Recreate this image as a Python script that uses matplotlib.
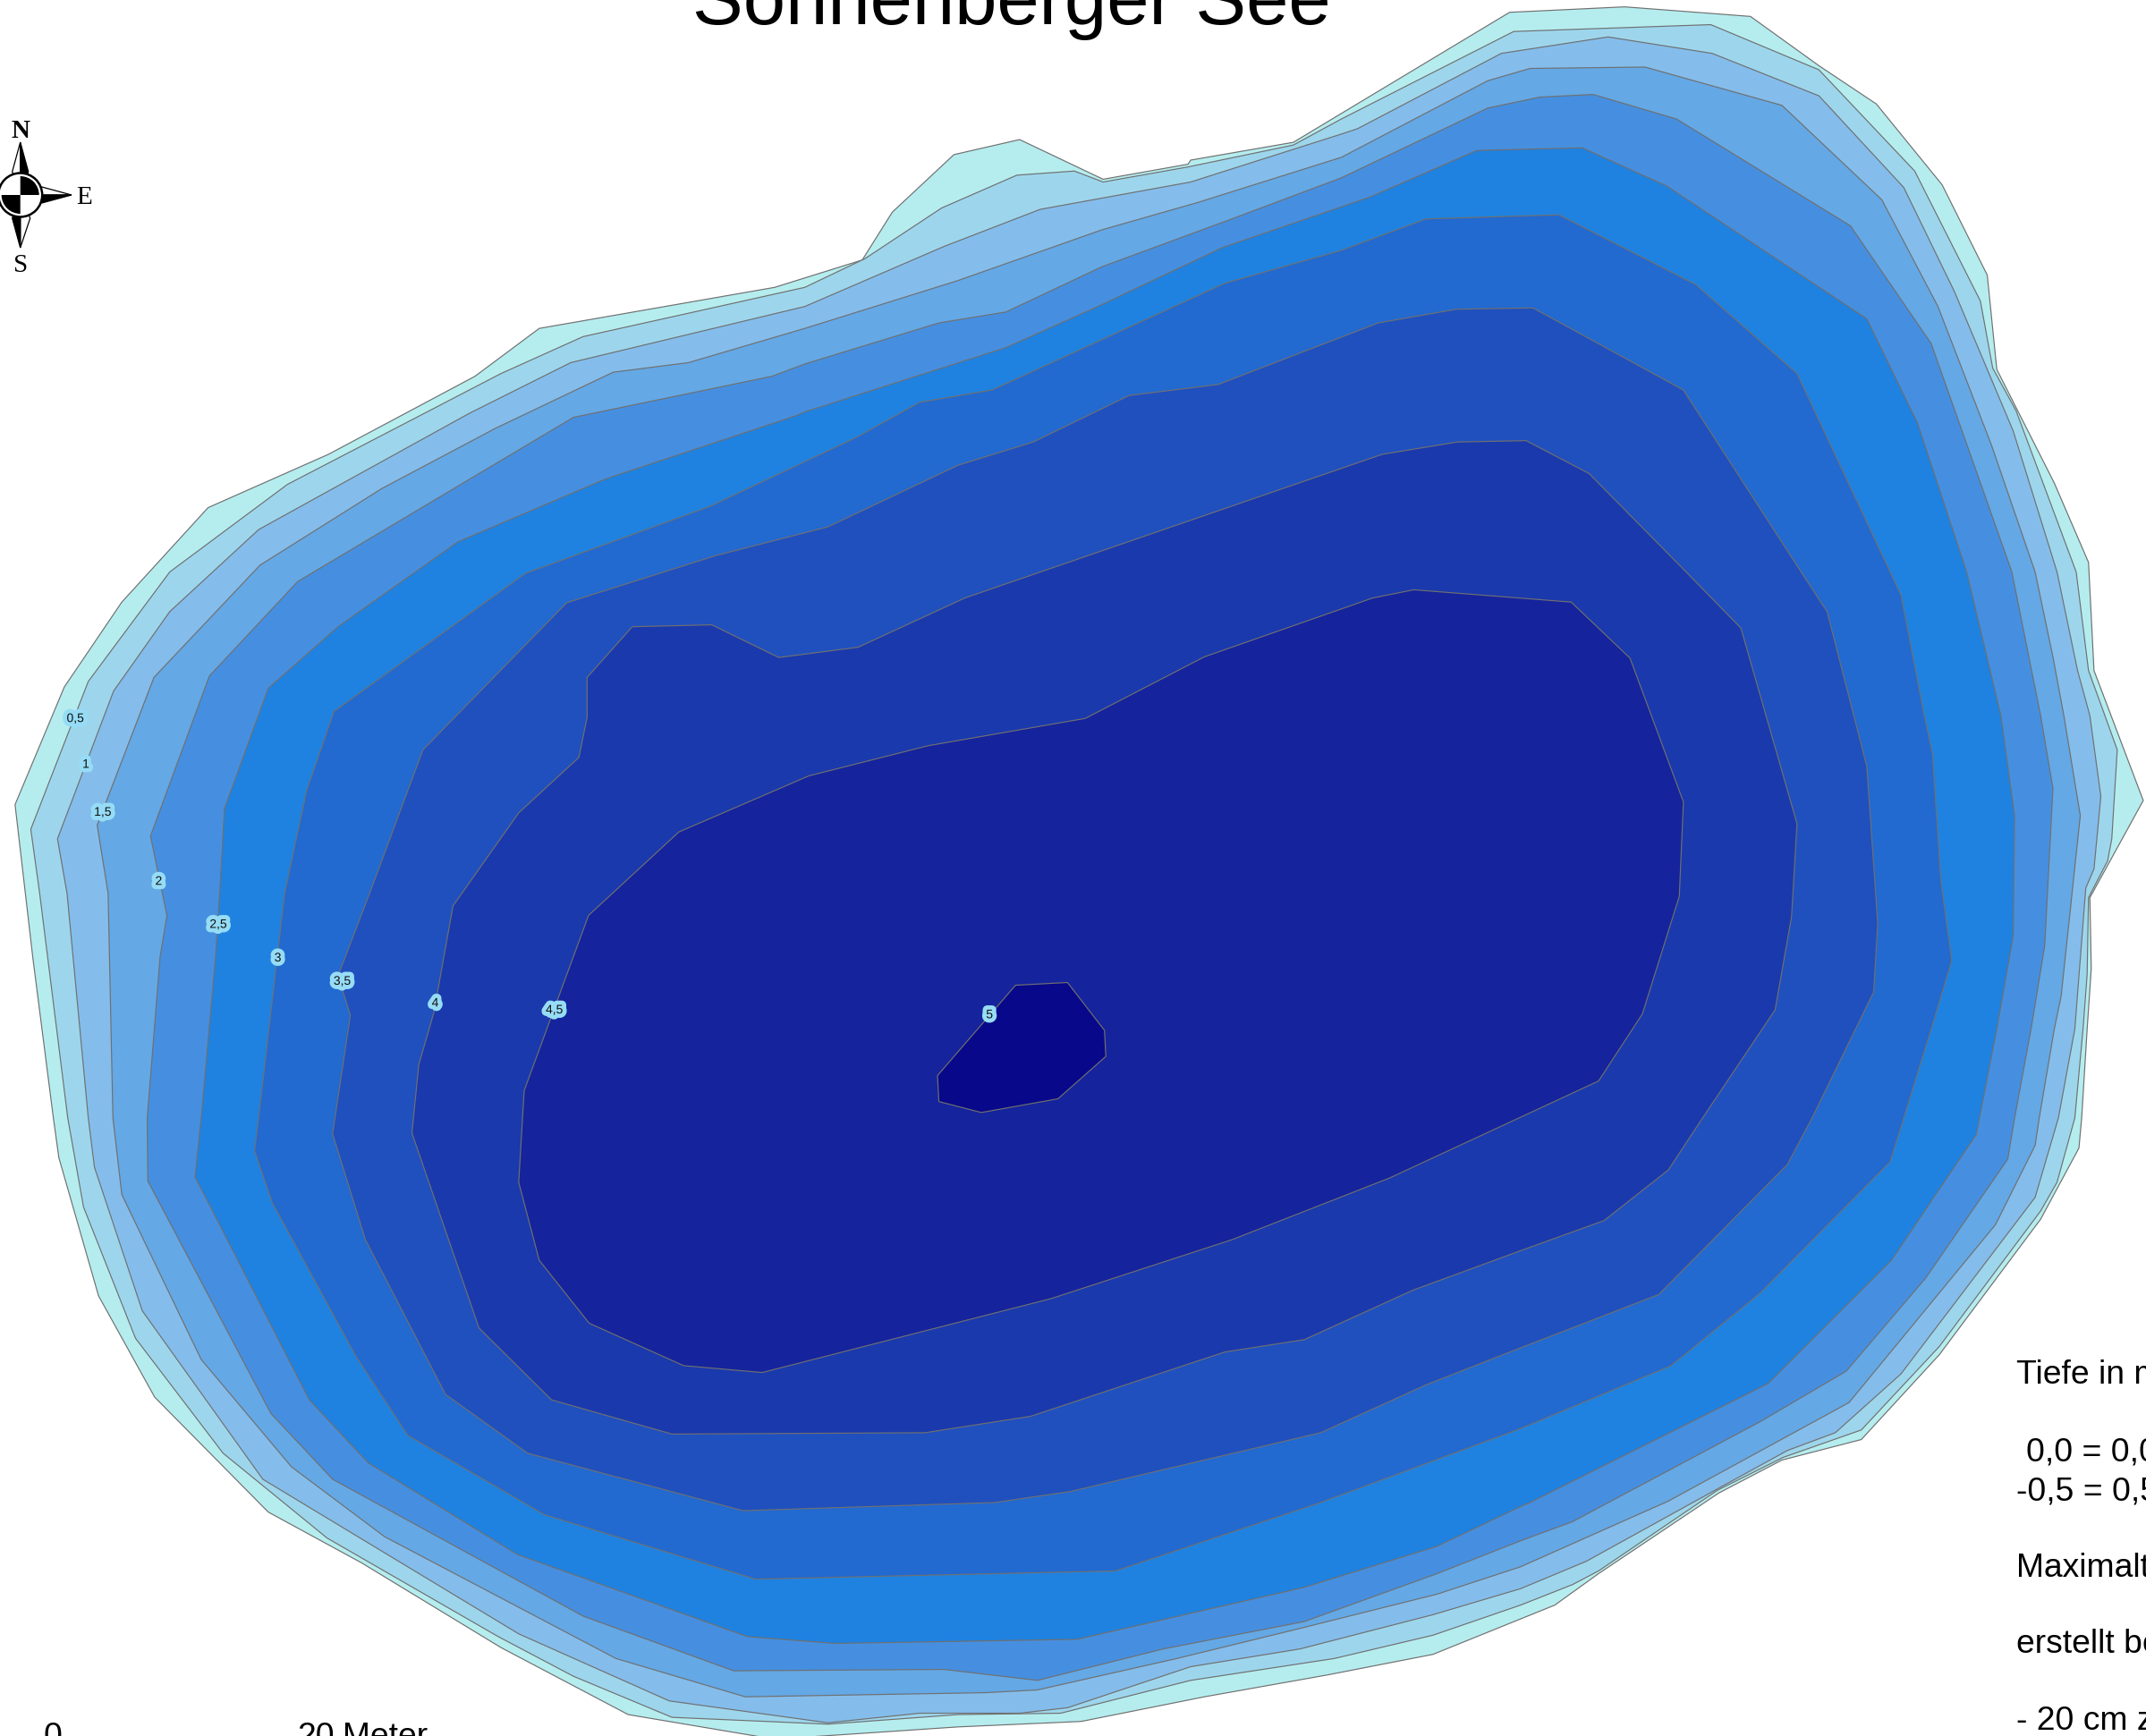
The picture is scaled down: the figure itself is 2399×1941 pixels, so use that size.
import matplotlib
matplotlib.use("Agg")
from matplotlib import pyplot as plt
from matplotlib.patches import Circle, Polygon, Wedge
import matplotlib.patheffects as pe

W, H = 2399, 1941
MAP_W = 1568.0
MAP_H = MAP_W * H / W

# depth contours (outermost = shoreline)
depth_00 = [(1103,9),(1187,5),(1279,12),(1329,48),(1371,76),(1419,135),(1452,201),(1459,270),(1501,353),(1526,411),(1530,490),(1566,585),(1527,656),(1528,708),(1525,752),(1521,817),(1519,839),(1491,891),(1417,990),(1360,1052),(1302,1067),(1256,1091),(1168,1150),(1136,1173),(1047,1209),(970,1224),(880,1240),(790,1258),(700,1262),(566,1271),(459,1253),(366,1204),(264,1142),(196,1105),(113,1021),(72,947),(43,846),(39,817),(24,700),(11,588),(47,502),(89,440),(152,371),(240,332),(347,275),(394,240),(566,210),(630,190),(652,155),(697,113),(745,102),(806,131),(868,120),(870,117),(945,104)]
depth_05 = [(1106,23),(1250,18),(1329,51),(1399,125),(1447,220),(1456,269),(1473,300),(1517,418),(1526,490),(1538,523),(1547,548),(1543,613),(1540,629),(1526,656),(1525,712),(1522,752),(1516,817),(1503,864),(1491,885),(1417,984),(1360,1045),(1303,1065),(1255,1089),(1168,1148),(1149,1158),(1111,1173),(1047,1195),(975,1212),(870,1228),(775,1252),(700,1253),(605,1260),(491,1255),(419,1225),(364,1196),(239,1124),(163,1062),(99,978),(61,882),(49.5,817),(29,653),(22.5,606),(64.5,498),(124,418),(210,354),(366,273),(426,246),(588,210),(632,189),(688,152),(743,128),(785,125),(806,133),(868,122),(945,106),(980,87)]
depth_10 = [(1097,39),(1175,27),(1251,39),(1329,70),(1391,137),(1428,213),(1471,315),(1503,418),(1518,490),(1527,523),(1535,582),(1530,635),(1524,649),(1516,752),(1504,817),(1487,875),(1389,1004),(1341,1047),(1306,1060),(1255,1088),(1159,1141),(1111,1161),(1047,1180),(950,1205),(870,1218),(780,1248),(745,1252),(672,1252),(605,1259),(489,1243),(379,1194),(192,1081),(104,958),(69,853),(64.5,817),(49,653),(42,613),(83,505),(124,447),(189,387),(343,302),(417,265),(588,224),(690,180),(760,153),(870,133),(980,98),(992,94)]
depth_15 = [(1118,50),(1202,49),(1302,77),(1375,146),(1416,224),(1455,325),(1487,418),(1500,480),(1508,523),(1520,596),(1506,728),(1501,752),(1490,817),(1487,837),(1458,895),(1351,1025),(1219,1097),(1111,1145),(1050,1165),(950,1190),(860,1212),(758,1235),(720,1237),(544.5,1240),(450,1212),(281,1123),(213,1072),(147,993.5),(89,873),(82.5,817),(79,653),(71,603),(112.5,495),(190,413),(279,357),(362,313),(448,272),(503,265),(588,240),(700,205),(805,168),(875,148),(980,115),(1087,59)]
depth_20 = [(1125,71),(1164,69),(1225,87),(1352,165),(1411,251),(1470,418),(1491,523),(1500,576),(1494,691),(1484,752),(1472,817),(1467,847),(1407,934),(1349,1002),(1286,1039),(1149,1112),(1111,1126),(1050,1150),(953,1185),(850,1205),(758,1228),(690,1220),(536,1221),(426,1181),(243,1081),(198,1033),(108,863),(107.6,817),(117,699),(122,669),(110,611),(153,494),(217.5,425),(419,305),(564,275),(588,266),(686,236),(735,228),(805,195),(900,160),(980,130),(1087,79)]
depth_25 = [(1079,110),(1156,108),(1218,136),(1364,233),(1401,309),(1437,418),(1462,523),(1472,596),(1471,684),(1459,752),(1444,829),(1382,921),(1292,1011),(1118,1098),(1111,1101),(1050,1130),(953,1160),(787,1198),(610,1201),(546,1196),(378,1136),(269,1069),(226,1023),(142.5,860),(147,817),(157.5,699),(160.5,653),(164,591),(196,503),(247,458),(334.5,396),(442.5,350),(581,304),(588,301),(735,254),(800,225),(893,181),(1001,144)]
depth_30 = [(1042,160),(1139,157),(1239,208),(1313,273),(1389,435),(1406,523),(1412,551),(1418,643),(1426,702),(1411,752),(1391,817),(1381,849),(1286,945),(1221,998),(1111,1044),(965,1098),(815,1148),(552,1154),(398,1107),(298,1049),(260,991),(199,879),(186,841),(189,817),(208,653),(224,578),(244,520),(384,419),(519,370),(625,320),(672,294),(725,285),(895,207),(980,183)]
depth_35 = [(1064,226),(1120,225),(1230,285),(1316,418),(1335,447),(1364,560),(1372,675),(1369,725),(1324,817),(1306,851),(1212,946),(1111,985),(1042,1012),(965,1047),(782,1090),(727,1098),(543,1104),(385.5,1062),(325.5,1019),(267,906),(243,828.5),(256,742),(247,713),(270,653),(309,548),(414,440.5),(523,406),(605,385),(700,340),(755,323),(825,289),(890,281),(1007,236)]
depth_40 = [(1065,323),(1115,322),(1161,346),(1232,418),(1272,459),(1313,602),(1309,670),(1297,738),(1244,817),(1219,855),(1172,892),(1111,914),(1032,943),(953,979),(895,988),(753,1035),(676,1047),(491,1048),(403,1023),(350,970.5),(301,828),(306,778),(317,740),(331,662),(379,594),(423,553.5),(429,524),(429,495),(462,458),(520,456.6),(569,480.5),(627,473),(705,437),(1010,332)]
depth_45 = [(1033,431),(1148,440),(1191,481),(1230,586),(1227,655),(1200,741),(1168,790),(1015,861),(900,906),(768,949),(557,1003),(499.5,998),(430.5,967),(394,921),(379,864),(383,797),(430,669),(496,608),(591,567),(678,545),(793,525),(880,480),(1003,437)]
depth_50 = [(742,720),(780,718),(807,753),(808,772),(773,803),(717,813),(686,805),(685,786)]

contours = [depth_00, depth_05, depth_10, depth_15, depth_20, depth_25,
            depth_30, depth_35, depth_40, depth_45, depth_50]
colors = ["#B5EDEF", "#9DD6EC", "#84BDEB", "#64A8E5", "#468FE0", "#1F82E0",
          "#2269D0", "#2050BE", "#1A39AC", "#15239C", "#08088A"]

label_text = ["0,5", "1", "1,5", "2", "2,5", "3", "3,5", "4", "4,5", "5"]
label_x = [55, 62.7, 75, 116, 159.5, 203, 250, 318, 405, 723]
label_y = [525, 558.5, 593.5, 644, 675.5, 700, 717, 733, 738, 741.5]

note_lines = ["Tiefe in m", "0,0 = 0,0", "-0,5 = 0,5", "Maximalt", "erstellt be", "- 20 cm z"]
note_x = [2254, 2265, 2254, 2254, 2254, 2254]
note_y = [1547, 1633, 1677, 1763, 1848, 1934]

SANS = "Liberation Sans"
SERIF = "Liberation Serif"

fig = plt.figure(figsize=(W / 100, H / 100), dpi=100, facecolor="white")

ax = fig.add_axes([0, 0, 1, 1])
ax.set_xlim(0, MAP_W)
ax.set_ylim(MAP_H, 0)
ax.axis("off")

for c, col in zip(contours, colors):
    ax.add_patch(Polygon(c, closed=True, facecolor=col, edgecolor="#707070", linewidth=0.85))

for t, x, y in zip(label_text, label_x, label_y):
    ax.text(x, y, t, fontsize=10, family=SANS, color="#111111", ha="center", va="center",
            path_effects=[pe.withStroke(linewidth=7, foreground="#96DCF6")])

# overlay in image pixels for the title, notes and north arrow
px = fig.add_axes([0, 0, 1, 1])
px.set_xlim(0, W)
px.set_ylim(H, 0)
px.axis("off")
px.patch.set_alpha(0)

px.text(1131, 27, "Sonnenberger See", fontsize=61.2, family=SANS, ha="center", va="baseline", clip_on=True)

for t, x, y in zip(note_lines, note_x, note_y):
    px.text(x, y, t, fontsize=26.8, family=SANS, ha="left", va="baseline", clip_on=True)

px.text(49, 1952, "0", fontsize=26.8, family=SANS, va="baseline", clip_on=True)
px.text(332, 1952, "20", fontsize=26.8, family=SANS, va="baseline", clip_on=True)
px.text(383, 1952, "Meter", fontsize=26.8, family=SANS, va="baseline", clip_on=True)

# north arrow
cx, cy = 22.7, 218
arms = [((cx, 159), (cx - 9, 192), (cx + 9, 192), "white", "black"),
        ((cx, 277), (cx + 11, 244), (cx - 9, 244), "white", "black"),
        ((80, cy), (cx + 24, cy - 9), (cx + 24, cy + 9), "white", "black"),
        ((-35, cy), (cx - 24, cy + 9), (cx - 24, cy - 9), "white", "black")]
for tip, a, b, c1, c2 in arms:
    px.add_patch(Polygon([tip, a, (cx, cy)], closed=True, facecolor=c1, edgecolor="black", linewidth=0.9))
    px.add_patch(Polygon([tip, b, (cx, cy)], closed=True, facecolor=c2, edgecolor="black", linewidth=0.9))
px.add_patch(Circle((cx, cy), 24.5, facecolor="white", edgecolor="black", linewidth=1.8))
px.add_patch(Wedge((cx, cy), 21, 270, 360, facecolor="black", edgecolor="none"))
px.add_patch(Wedge((cx, cy), 21, 90, 180, facecolor="black", edgecolor="none"))
px.text(22.7, 146, "N", fontsize=21, family=SERIF, weight="bold", ha="center", va="center")
px.text(94, 221, "E", fontsize=21, family=SERIF, ha="center", va="center")
px.text(23, 297, "S", fontsize=21, family=SERIF, ha="center", va="center")

fig.savefig("out.png", dpi=100)
